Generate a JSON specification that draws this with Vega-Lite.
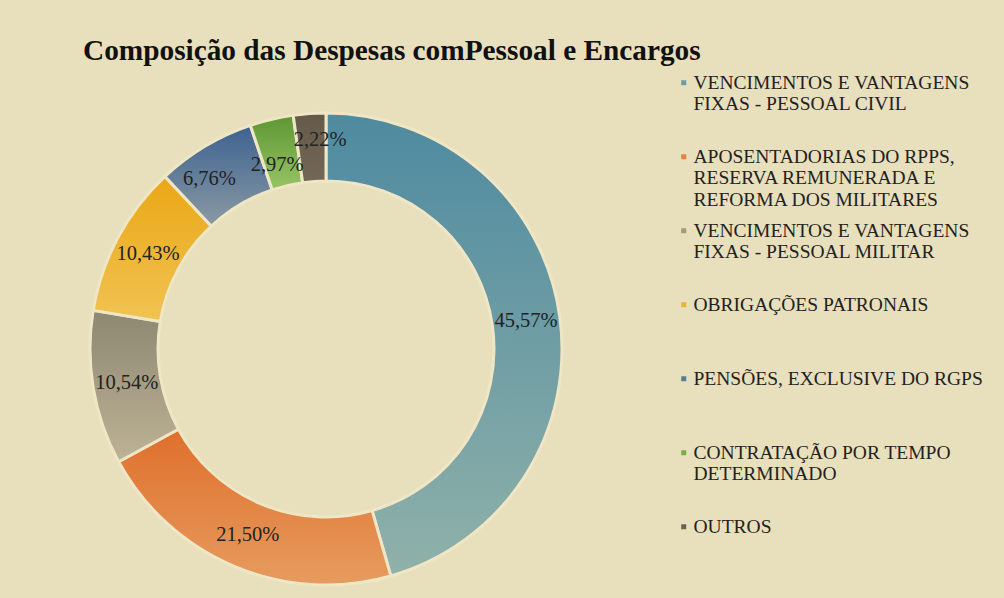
{
  "$schema": "https://vega.github.io/schema/vega-lite/v6.json",
  "width": 652,
  "height": 498,
  "autosize": {"type": "none"},
  "padding": {"left": 0, "top": 100, "right": 352, "bottom": 0},
  "background": "#e8dfbc",
  "title": {
    "text": "Composição das Despesas comPessoal e Encargos",
    "anchor": "start",
    "frame": "group",
    "dx": 83,
    "dy": 64,
    "offset": 39,
    "baseline": "alphabetic",
    "font": "Liberation Serif",
    "fontSize": 29.3,
    "fontWeight": "bold",
    "color": "#111111"
  },
  "data": {
    "values": [
      {"categoria": "VENCIMENTOS E VANTAGENS|FIXAS - PESSOAL CIVIL|", "valor": 45.57},
      {"categoria": "APOSENTADORIAS DO RPPS,|RESERVA REMUNERADA E|REFORMA DOS MILITARES", "valor": 21.50},
      {"categoria": "VENCIMENTOS E VANTAGENS|FIXAS - PESSOAL MILITAR|", "valor": 10.54},
      {"categoria": "OBRIGAÇÕES PATRONAIS||", "valor": 10.43},
      {"categoria": "PENSÕES, EXCLUSIVE DO RGPS||", "valor": 6.76},
      {"categoria": "CONTRATAÇÃO POR TEMPO|DETERMINADO|", "valor": 2.97},
      {"categoria": "OUTROS||", "valor": 2.22}
    ]
  },
  "transform": [
    {"calculate": "replace(format(datum.valor, '.2f'), '.', ',') + '%'", "as": "rotulo"}
  ],
  "encoding": {
    "theta": {"field": "valor", "type": "quantitative", "stack": true},
    "order": {"field": "valor", "sort": "descending"}
  },
  "layer": [
    {
      "mark": {"type": "arc", "outerRadius": 236, "innerRadius": 168, "stroke": "#efe6c6", "strokeWidth": 3},
      "encoding": {
        "color": {
          "condition": [
            {"test": "datum.valor > 40", "value": {"gradient": "linear", "x1": 0, "y1": 0, "x2": 0, "y2": 1, "stops": [{"offset": 0, "color": "#4e8aa0"}, {"offset": 1, "color": "#90b1a9"}]}},
            {"test": "datum.valor > 20 && datum.valor < 40", "value": {"gradient": "linear", "x1": 0, "y1": 0, "x2": 0, "y2": 1, "stops": [{"offset": 0, "color": "#df6f2c"}, {"offset": 1, "color": "#e69c5f"}]}},
            {"test": "datum.valor > 10.5 && datum.valor < 20", "value": {"gradient": "linear", "x1": 0, "y1": 0, "x2": 0, "y2": 1, "stops": [{"offset": 0, "color": "#8d8872"}, {"offset": 1, "color": "#bdb295"}]}},
            {"test": "datum.valor > 10 && datum.valor < 10.5", "value": {"gradient": "linear", "x1": 0, "y1": 0, "x2": 0, "y2": 1, "stops": [{"offset": 0, "color": "#eaa716"}, {"offset": 1, "color": "#f0c352"}]}},
            {"test": "datum.valor > 5 && datum.valor < 10", "value": {"gradient": "linear", "x1": 0, "y1": 0, "x2": 0, "y2": 1, "stops": [{"offset": 0, "color": "#3d6291"}, {"offset": 1, "color": "#8a9aa3"}]}},
            {"test": "datum.valor > 2.5 && datum.valor < 5", "value": {"gradient": "linear", "x1": 0, "y1": 0, "x2": 0, "y2": 1, "stops": [{"offset": 0, "color": "#5c9732"}, {"offset": 1, "color": "#98c465"}]}},
            {"test": "datum.valor < 2.5", "value": {"gradient": "linear", "x1": 0, "y1": 0, "x2": 0, "y2": 1, "stops": [{"offset": 0, "color": "#655a4a"}, {"offset": 1, "color": "#736856"}]}}
          ],
          "field": "categoria",
          "type": "nominal",
          "scale": {
            "domain": [
              "VENCIMENTOS E VANTAGENS|FIXAS - PESSOAL CIVIL|",
              "APOSENTADORIAS DO RPPS,|RESERVA REMUNERADA E|REFORMA DOS MILITARES",
              "VENCIMENTOS E VANTAGENS|FIXAS - PESSOAL MILITAR|",
              "OBRIGAÇÕES PATRONAIS||",
              "PENSÕES, EXCLUSIVE DO RGPS||",
              "CONTRATAÇÃO POR TEMPO|DETERMINADO|",
              "OUTROS||"
            ],
            "range": ["#6c9ba5", "#df8444", "#a2997e", "#ebb430", "#5b7897", "#79ad4a", "#6b6151"]
          },
          "legend": {
            "title": null,
            "orient": "none",
            "legendX": 674,
            "legendY": -36,
            "direction": "vertical",
            "symbolType": "M-1,2.6H1V4.6H-1Z",
            "symbolSize": 25,
            "symbolStrokeWidth": 0,
            "symbolOpacity": 1,
            "labelFont": "Liberation Serif",
            "labelFontSize": 19.5,
            "labelColor": "#222222",
            "labelLimit": 330,
            "labelOffset": 0,
            "labelBaseline": "top",
            "labelLineHeight": 22,
            "rowPadding": 2,
            "labelExpr": "split(datum.label, '|')"
          }
        }
      }
    },
    {
      "mark": {"type": "text", "radius": 202, "font": "Liberation Serif", "fontSize": 20.5},
      "encoding": {
        "text": {"condition": {"test": "datum.valor > 7", "field": "rotulo"}, "value": ""},
        "color": {"value": "#222222"}
      }
    },
    {
      "mark": {"type": "text", "radius": 202, "dx": -13, "dy": 3, "font": "Liberation Serif", "fontSize": 20.5},
      "encoding": {
        "text": {"condition": {"test": "datum.valor > 5 && datum.valor < 7", "field": "rotulo"}, "value": ""},
        "color": {"value": "#222222"}
      }
    },
    {
      "mark": {"type": "text", "radius": 190, "dx": -5, "dy": 1, "font": "Liberation Serif", "fontSize": 20.5},
      "encoding": {
        "text": {"condition": {"test": "datum.valor > 2.5 && datum.valor < 3", "field": "rotulo"}, "value": ""},
        "color": {"value": "#222222"}
      }
    },
    {
      "mark": {"type": "text", "radius": 213, "dx": 9, "dy": 3, "font": "Liberation Serif", "fontSize": 20.5},
      "encoding": {
        "text": {"condition": {"test": "datum.valor < 2.5", "field": "rotulo"}, "value": ""},
        "color": {"value": "#222222"}
      }
    }
  ]
}
